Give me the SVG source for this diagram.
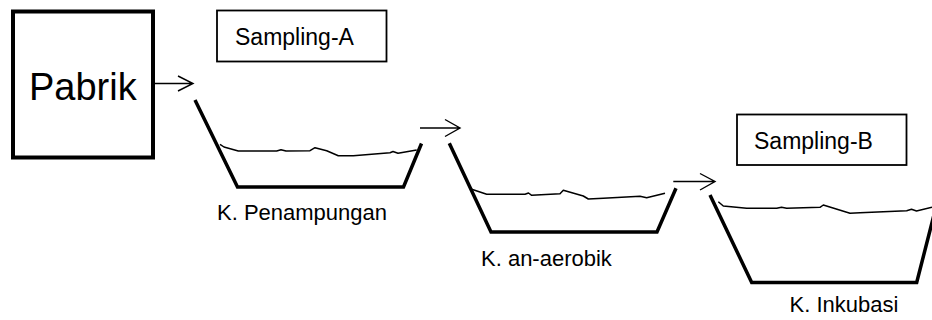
<svg xmlns="http://www.w3.org/2000/svg" width="932" height="320" viewBox="0 0 932 320">
<style>
.box{fill:#fff;stroke:#000;stroke-width:1.8}
.tank{fill:none;stroke:#000;stroke-width:3.5;stroke-linejoin:miter}
.water{fill:none;stroke:#000;stroke-width:1.5;stroke-linejoin:round}
.arr{fill:none;stroke:#000;stroke-width:1.4}
.lbl{font-family:"Liberation Sans",Arial,sans-serif;fill:#000}
</style>
<rect width="932" height="320" fill="#fff"/>
<g id="pabrik">
<rect x="13" y="11.5" width="140" height="146" fill="#fff" stroke="#000" stroke-width="4"/>
<text class="lbl" x="29" y="100" font-size="38">Pabrik</text>
</g>
<g id="sampling-a">
<rect class="box" x="217" y="10.5" width="169.5" height="51"/>
<text class="lbl" x="235" y="45" font-size="23">Sampling-A</text>
</g>
<g id="sampling-b">
<rect class="box" x="737" y="114.5" width="169.5" height="50.5"/>
<text class="lbl" x="754" y="148.5" font-size="23">Sampling-B</text>
</g>
<g id="k-penampungan">
<polyline class="tank" points="195,100 237.5,187 403.5,187 421.5,143.5"/>
<polyline class="water" points="220,144.3 224,147 238.3,151 276.7,151 281,149.8 286,151 310,150.7 315,147.7 326.7,150.7 338.3,155.7 353.3,155.7 390,152.7 393,151.5 398,153.3 416.7,150"/>
<text class="lbl" x="217" y="220" font-size="22">K. Penampungan</text>
</g>
<g id="k-an-aerobik">
<polyline class="tank" points="449.3,143.3 491,232 657,232 676,188.3"/>
<polyline class="water" points="471.7,189.3 486.7,194.3 525,194.3 528.5,193 531.7,195.3 560,193.7 563.3,190.3 583.3,196 588.3,199 603.3,198.3 640,196.3 646.7,197.7 665,193.3"/>
<text class="lbl" x="481" y="266" font-size="22">K. an-aerobik</text>
</g>
<g id="k-inkubasi">
<polyline class="tank" points="710,195 751.7,282.5 916.7,282.5 937,203"/>
<polyline class="water" points="718.3,201.7 723.3,206 746.7,208.3 776.7,208.3 781.5,207.2 786.7,208.3 820,207.3 823.3,205 850,213.3 860,212.7 906.7,210.7 911.5,209.3 916.5,211 932,207.3"/>
<text class="lbl" x="789.5" y="311.5" font-size="22">K. Inkubasi</text>
</g>
<g id="connectors">
<path class="arr" d="M155,83.5 H193 M178,76 L193,83.5 L178,91"/>
<path class="arr" d="M420,128 H460 M445,119.5 L460,128 L445,136.5"/>
<path class="arr" d="M673.3,181.5 H715 M700,173.5 L715,181.5 L700,190"/>
</g>
</svg>
